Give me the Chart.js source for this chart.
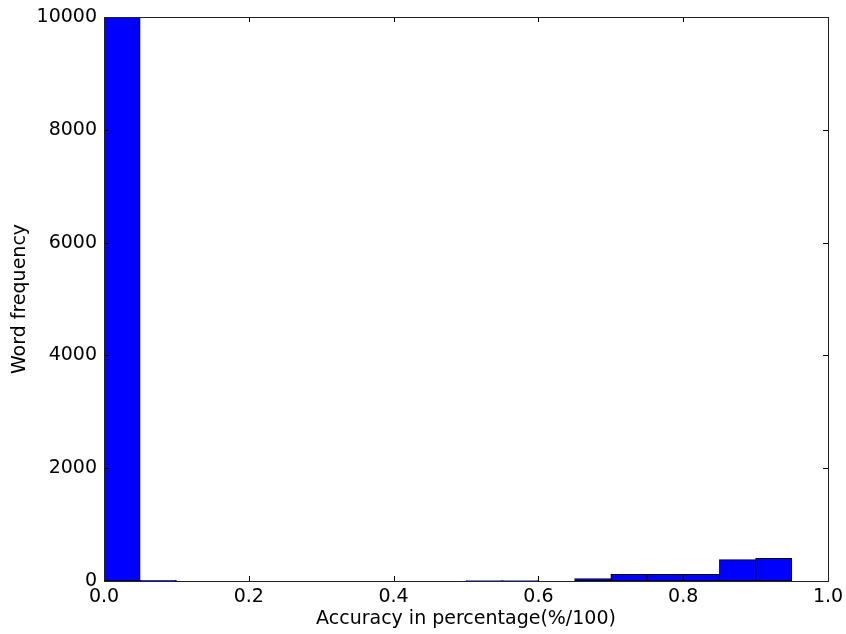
<!DOCTYPE html>
<html>
<head>
<meta charset="utf-8">
<script src="https://cdn.jsdelivr.net/npm/chart.js@4.4.1/dist/chart.umd.min.js"></script>
<style>
  html, body { margin: 0; padding: 0; background: #fff; }
  #wrap { width: 846px; height: 634px; }
</style>
</head>
<body>
<div id="wrap"><canvas id="c" width="846" height="634"></canvas></div>
<script>
// Histogram bins of width 0.05 (left edges) and their word counts
const binEdges = [0.00, 0.05, 0.10, 0.15, 0.20, 0.25, 0.30, 0.35, 0.40, 0.45,
                  0.50, 0.55, 0.60, 0.65, 0.70, 0.75, 0.80, 0.85, 0.90];
const binWidth = 0.05;
const counts   = [10000, 12, 0, 0, 0, 0, 0, 0, 0, 0,
                  8, 8, 0, 45, 120, 120, 120, 380, 400];
const xTicks = [0.0, 0.2, 0.4, 0.6, 0.8, 1.0];
const yTicks = [0, 2000, 4000, 6000, 8000, 10000];

const FONT = 'DejaVu Sans';
const FS = 19;

// Inward tick marks on all four sides of the plot frame
const inwardTicks = {
  id: 'inwardTicks',
  afterDraw(chart) {
    const { ctx, chartArea: a, scales } = chart;
    const L = 5;
    ctx.save();
    ctx.strokeStyle = '#000';
    ctx.lineWidth = 1;
    ctx.beginPath();
    xTicks.forEach(v => {
      const px = Math.round(scales.x.getPixelForValue(v)) + 0.5;
      ctx.moveTo(px, a.bottom); ctx.lineTo(px, a.bottom - L);
      ctx.moveTo(px, a.top); ctx.lineTo(px, a.top + L);
    });
    yTicks.forEach(v => {
      const py = Math.round(scales.y.getPixelForValue(v)) + 0.5;
      ctx.moveTo(a.left, py); ctx.lineTo(a.left + L, py);
      ctx.moveTo(a.right, py); ctx.lineTo(a.right - L, py);
    });
    ctx.stroke();
    ctx.strokeStyle = '#222';
    ctx.strokeRect(Math.round(a.left) + 0.5, Math.round(a.top) + 0.5,
                   Math.round(a.right - a.left), Math.round(a.bottom - a.top));
    ctx.restore();
  }
};

new Chart(document.getElementById('c'), {
  type: 'bar',
  data: {
    datasets: [{
      data: binEdges.map((e, i) => ({ x: e + binWidth / 2, y: counts[i] })),
      backgroundColor: '#0000ff',
      borderColor: '#000000',
      borderWidth: 1,
      borderSkipped: false,
      barPercentage: 1.0,
      categoryPercentage: 1.0
    }]
  },
  options: {
    responsive: false,
    animation: false,
    devicePixelRatio: 1,
    layout: { padding: { top: 17, right: 18, left: 0, bottom: 0 } },
    plugins: { legend: { display: false }, tooltip: { enabled: false } },
    scales: {
      x: {
        type: 'linear',
        offset: false,
        min: 0, max: 1,
        afterBuildTicks(s) { s.ticks = xTicks.map(v => ({ value: v })); },
        afterFit(s) { s.height = 53; s.paddingRight = 0; s.paddingLeft = 0; },
        grid: { display: false, drawTicks: false, offset: false },
        border: { display: false },
        ticks: {
          color: '#000', padding: 5,
          font: { family: FONT, size: FS },
          callback: v => v.toFixed(1)
        },
        title: {
          display: true, text: 'Accuracy in percentage(%/100)', color: '#000',
          font: { family: FONT, size: FS }, padding: { top: 0, bottom: 4 }
        }
      },
      y: {
        min: 0, max: 10000,
        afterBuildTicks(s) { s.ticks = yTicks.map(v => ({ value: v })); },
        afterFit(s) { s.width = 104; s.paddingTop = 0; s.paddingBottom = 0; },
        grid: { display: false, drawTicks: false },
        border: { display: false },
        ticks: {
          color: '#000', padding: 7,
          font: { family: FONT, size: FS },
          callback: v => String(v)
        },
        title: {
          display: true, text: 'Word frequency', color: '#000',
          font: { family: FONT, size: FS }, padding: { top: 9, bottom: 0 }
        }
      }
    }
  },
  plugins: [inwardTicks]
});
</script>
</body>
</html>
